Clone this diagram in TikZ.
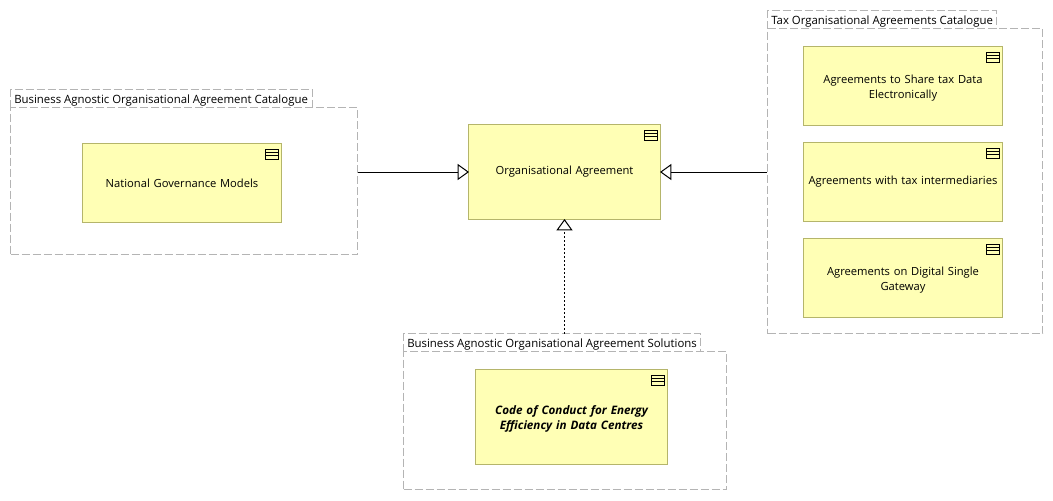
\documentclass[tikz,border=0pt]{standalone}
\usepackage{fontspec}
\setmainfont{Open Sans}
\usetikzlibrary{arrows.meta,positioning}
\definecolor{boxfill}{HTML}{FFFFB5}
\definecolor{boxline}{HTML}{B5B56B}
\definecolor{groupline}{HTML}{B4B4B4}
\tikzset{>=stealth}
\tikzset{
  agreebox/.style={draw=boxline,fill=boxfill,line width=.75pt,align=center,
    font=\fontsize{8.4}{11.25}\selectfont,text width=#1,inner sep=0pt},
  agreebox/.default=140pt,
  twolines/.style={execute at begin node={\rule{0pt}{10pt}}},
  groupbody/.style={draw=groupline,dash pattern=on 6pt off 2.25pt,line width=.75pt,inner sep=0pt},
  tablabel/.style={anchor=west,font=\fontsize{8.55}{11}\selectfont,inner sep=0pt},
  realize/.style={-{Triangle[open,length=8.5pt,width=12pt,fill=white]},line width=.75pt,shorten >=-.75pt},
  realizedot/.style={realize,dash pattern=on 1.5pt off 1.5pt}
}
% draws the small table mark in the top right corner of a box
\newcommand*{\tablemark}[1]{
  \draw[line width=.75pt] ([xshift=-12.75pt,yshift=-4.5pt]#1.north east) rectangle ([xshift=-3pt,yshift=-12pt]#1.north east);
  \draw[line width=.75pt] ([xshift=-12.75pt,yshift=-7pt]#1.north east) -- ([xshift=-3pt,yshift=-7pt]#1.north east);
  \draw[line width=.75pt] ([xshift=-12.75pt,yshift=-9.5pt]#1.north east) -- ([xshift=-3pt,yshift=-9.5pt]#1.north east);
}
\begin{document}
\begin{tikzpicture}[x=.75pt,y=-.75pt]
\useasboundingbox (0,0) rectangle (1053,500);
% groups
\node[groupbody,minimum width=260.25pt,minimum height=110.25pt] (catalogue) at (184,181) {};
\node[groupbody,minimum width=206.25pt,minimum height=228.75pt] (tax) at (905,181) {};
\node[groupbody,minimum width=242.25pt,minimum height=103.5pt] (solutions) at (565,420.5) {};
\draw[groupbody] (10.5,107.5) -- (10.5,89.5) -- (312.5,89.5) -- (312.5,107.5);
\draw[groupbody] (767.5,28.5) -- (767.5,10.5) -- (996.5,10.5) -- (996.5,28.5);
\draw[groupbody] (403.5,351.5) -- (403.5,333.5) -- (700.5,333.5) -- (700.5,351.5);
\node[tablabel] (cataloguetab) at (14,101) {Business Agnostic Organisational Agreement Catalogue};
\node[tablabel] (taxtab) at (771,22) {Tax Organisational Agreements Catalogue};
\node[tablabel] (solutionstab) at (407,345) {Business Agnostic Organisational Agreement Solutions};
% boxes
\node[agreebox=149.25pt,minimum height=59.25pt] (governance) at (182,183) {National Governance Models};
\node[agreebox=144pt,minimum height=71.25pt] (agreement) at (564.5,172) {Organisational Agreement};
\node[agreebox=149.25pt,minimum height=59.25pt,twolines] (share) at (903,86) {Agreements to Share tax Data\\Electronically};
\node[agreebox=149.25pt,minimum height=59.25pt] (intermediaries) at (903,182) {Agreements with tax intermediaries};
\node[agreebox=149.25pt,minimum height=59.25pt,twolines] (gateway) at (903,278) {Agreements on Digital Single\\Gateway};
\node[agreebox=144pt,minimum height=71.25pt,twolines,font=\fontsize{8.75}{11.25}\selectfont\bfseries\itshape] (conduct) at (571.5,417) {Code of Conduct for Energy\\Efficiency in Data Centres};
\tablemark{governance}
\tablemark{agreement}
\tablemark{share}
\tablemark{intermediaries}
\tablemark{gateway}
\tablemark{conduct}
% connectors
\draw[realize] (catalogue.east |- agreement) -- (agreement);
\draw[realize] (tax.west |- agreement) -- (agreement);
\coordinate (tabtop) at (agreement |- 0,333.5);
\draw[realizedot] (tabtop) -- (agreement);
\end{tikzpicture}
\end{document}
